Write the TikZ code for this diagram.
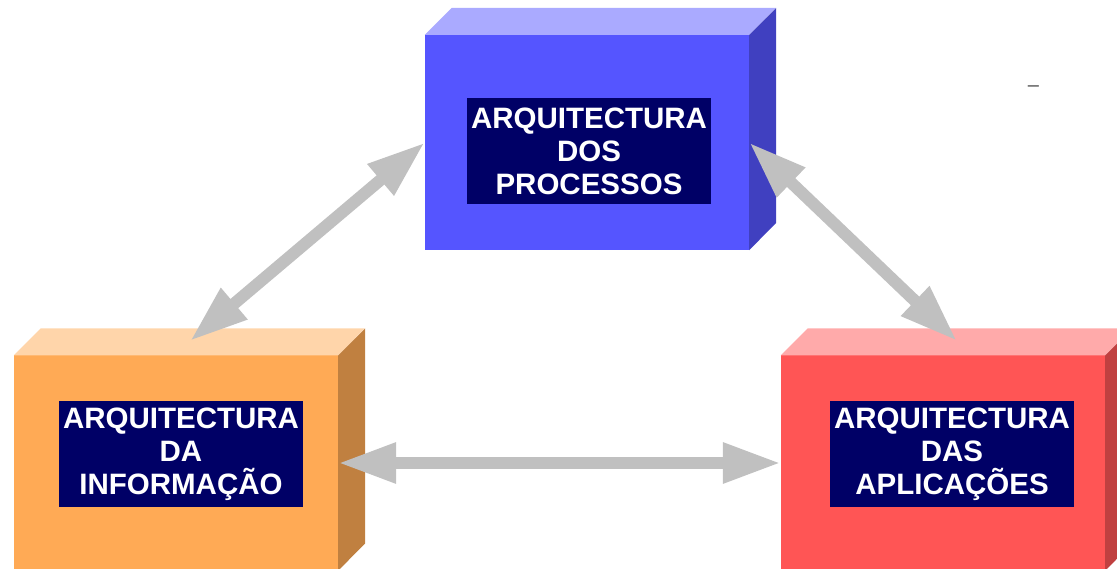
\documentclass[tikz,border=0pt]{standalone}
\usepackage{fontspec}
\setmainfont{Liberation Sans}
\usepackage{xcolor}
\usetikzlibrary{arrows.meta}

\definecolor{procfront}{HTML}{5555FF}
\definecolor{proctop}{HTML}{AAAAFF}
\definecolor{procside}{HTML}{4040C0}
\definecolor{infofront}{HTML}{FFAA55}
\definecolor{infotop}{HTML}{FFD5AA}
\definecolor{infoside}{HTML}{C08040}
\definecolor{appsfront}{HTML}{FF5555}
\definecolor{appstop}{HTML}{FFAAAA}
\definecolor{appsside}{HTML}{C04040}
\definecolor{tagblue}{HTML}{000066}
\definecolor{linkgray}{HTML}{C0C0C0}
\definecolor{dashgray}{HTML}{505050}

\begin{document}
\begin{tikzpicture}[x=1pt, y=-1pt,
    face/.style={minimum width=324pt, minimum height=215pt, inner sep=0pt},
    tag/.style={fill=tagblue, text=white, align=center, inner sep=0pt,
        minimum width=244pt, minimum height=106pt,
        font=\fontsize{29.5}{33}\selectfont\bfseries},
    link/.style={draw=linkgray, line width=12pt, <->,
        >={Triangle[length=58pt, width=38pt]}}]
    \clip (0, 0) rectangle (1117, 569);
    % front faces
    \node (proc) at (587, 142.5) [face, fill=procfront] {};
    \node (info) at (176, 463) [face, fill=infofront] {};
    \node (apps) at (943, 463) [face, fill=appsfront] {};
    % top and side faces
    \fill [proctop] (proc.north west) -- ++(27, -27) -- ++(324, 0) -- (proc.north east) -- cycle;
    \fill [procside] (proc.north east) -- ++(27, -27) -- ++(0, 215) -- (proc.south east) -- cycle;
    \fill [infotop] (info.north west) -- ++(27, -27) -- ++(324, 0) -- (info.north east) -- cycle;
    \fill [infoside] (info.north east) -- ++(27, -27) -- ++(0, 215) -- (info.south east) -- cycle;
    \fill [appstop] (apps.north west) -- ++(27, -27) -- ++(324, 0) -- (apps.north east) -- cycle;
    \fill [appsside] (apps.north east) -- ++(27, -27) -- ++(0, 215) -- (apps.south east) -- cycle;
    % labels
    \node (proctag) at (589, 151.5) [tag] {ARQUITECTURA\\DOS\\PROCESSOS};
    \node (infotag) at (181, 454) [tag] {ARQUITECTURA\\DA\\INFORMAÇÃO};
    \node (appstag) at (952, 454) [tag] {ARQUITECTURA\\DAS\\APLICAÇÕES};
    % links
    \coordinate (infoend) at (190, 341);
    \coordinate (appsend) at (957, 341);
    \draw [link] (infoend) -- (proc.west);
    \draw [link] (proc.east) -- (appsend);
    \draw [link] (info.east) -- (apps.west);
    \node (dash) at (1033.5, 91.5) [anchor=base, inner sep=0pt, text=dashgray,
        font=\fontsize{20}{24}\selectfont] {–};
\end{tikzpicture}
\end{document}
